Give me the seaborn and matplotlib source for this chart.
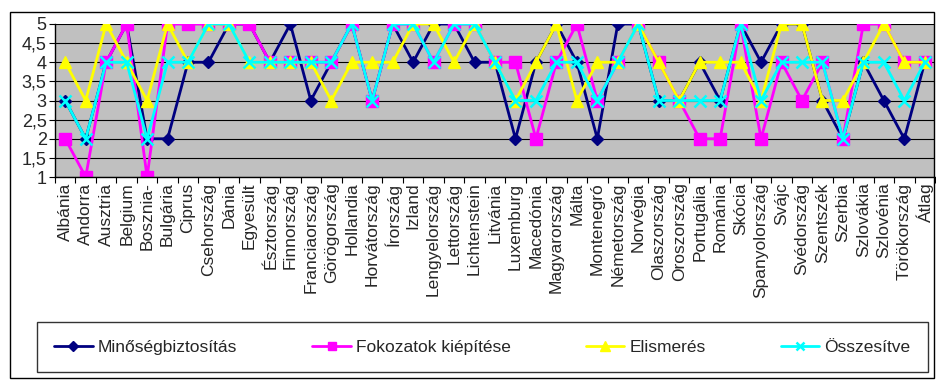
import matplotlib
matplotlib.use("Agg")
import matplotlib.pyplot as plt
from matplotlib.patches import Rectangle
from matplotlib.ticker import FixedLocator, FuncFormatter
import seaborn as sns
import pandas as pd
import numpy as np

categories = ["Albánia", "Andorra", "Ausztria", "Belgium", "Bosznia-", "Bulgária", "Ciprus",
              "Csehország", "Dánia", "Egyesült", "Észtország", "Finnország", "Franciaország",
              "Görögország", "Hollandia", "Horvátország", "Írország", "Izland", "Lengyelország",
              "Lettország", "Lichtenstein", "Litvánia", "Luxemburg", "Macedónia", "Magyarország",
              "Málta", "Montenegró", "Németország", "Norvégia", "Olaszország", "Oroszország",
              "Portugália", "Románia", "Skócia", "Spanyolország", "Svájc", "Svédország",
              "Szentszék", "Szerbia", "Szlovákia", "Szlovénia", "Törökország", "Átlag"]

minosegbiztositas = [3, 2, 4, 5, 2, 2, 4, 4, 5, 5, 4, 5, 3, 4, 5, 3, 5, 4, 5, 5, 4, 4,
                     2, 4, 5, 4, 2, 5, 5, 3, 3, 4, 3, 5, 4, 5, 5, 3, 2, 4, 3, 2, 4]
fokozatok = [2, 1, 4, 5, 1, 5, 5, 5, 5, 5, 4, 4, 4, 4, 5, 3, 5, 5, 4, 5, 5, 4,
             4, 2, 4, 5, 3, 4, 5, 4, 3, 2, 2, 5, 2, 4, 3, 4, 2, 5, 5, 4, 4]
elismeres = [4, 3, 5, 4, 3, 5, 4, 5, 5, 4, 4, 4, 4, 3, 4, 4, 4, 5, 5, 4, 5, 4,
             3, 4, 5, 3, 4, 4, 5, 4, 3, 4, 4, 4, 3, 5, 5, 3, 3, 4, 5, 4, 4]
osszesitve = [3, 2, 4, 4, 2, 4, 4, 5, 5, 4, 4, 4, 4, 4, 5, 3, 5, 5, 4, 5, 5, 4,
              3, 3, 4, 4, 3, 4, 5, 3, 3, 3, 3, 5, 3, 4, 4, 4, 2, 4, 4, 3, 4]

series_names = ["Minőségbiztosítás", "Fokozatok kiépítése", "Elismerés", "Összesítve"]
series_values = [minosegbiztositas, fokozatok, elismeres, osszesitve]
colors = ["#000080", "#FF00FF", "#FFFF00", "#00FFFF"]
marker_map = ["D", "s", "^", "x"]
marker_sizes = [6, 8, 9, 8]

sns.set_style("white")
plt.rcParams["font.family"] = ["Liberation Sans", "DejaVu Sans"]

fig = plt.figure(figsize=(9.37, 3.80), dpi=100)
W, H = 937, 380
ax = fig.add_axes([55 / W, 1 - 177 / H, (935 - 55) / W, (177 - 24) / H])
ax.set_facecolor("#C0C0C0")

for name, vals, col, mk, ms in zip(series_names, series_values, colors, marker_map, marker_sizes):
    d = pd.DataFrame({"Ország": categories, "Érték": vals})
    sns.lineplot(data=d, x="Ország", y="Érték", color=col, marker=mk,
                 markersize=ms, markeredgecolor=col, markerfacecolor=col,
                 markeredgewidth=(1.8 if mk == "x" else 1),
                 linewidth=2, sort=False, ax=ax, label=name)

handles, labels = ax.get_legend_handles_labels()
if ax.get_legend() is not None:
    ax.get_legend().remove()

ax.set_xlim(-0.5, len(categories) - 0.5)
ax.set_ylim(1, 5)
yt = np.arange(1, 5.01, 0.5)
ax.set_yticks(yt)
ax.yaxis.set_major_formatter(FuncFormatter(lambda v, p: ("%g" % v).replace(".", ",")))
ax.grid(axis="y", color="black", linewidth=0.8)
ax.grid(axis="x", visible=False)
ax.set_axisbelow(True)

ax.set_xticks(range(len(categories)))
ax.set_xticklabels(categories, rotation=90, fontsize=12.5)
ax.xaxis.set_minor_locator(FixedLocator(np.arange(-0.5, len(categories), 1.0)))
ax.tick_params(axis="x", which="major", length=0, pad=4)
ax.tick_params(axis="x", which="minor", length=4, color="black", width=0.8, direction="out", bottom=True)
ax.tick_params(axis="y", which="major", length=4, color="black", width=0.8,
               direction="out", labelsize=13, left=True, pad=2)
ax.set_xlabel("")
ax.set_ylabel("")

for s in ["top", "right"]:
    ax.spines[s].set_visible(False)
for s in ["left", "bottom"]:
    ax.spines[s].set_visible(True)
    ax.spines[s].set_color("black")
    ax.spines[s].set_linewidth(1)

leg = fig.legend(handles, labels, loc="lower left",
                 bbox_to_anchor=(37 / W, 1 - 372 / H, (928 - 37) / W, 56 / H),
                 ncol=4, mode="expand", frameon=True, fancybox=False, shadow=False,
                 fontsize=12.5, handlelength=2.2, handletextpad=0.3,
                 borderaxespad=0, borderpad=1.0)
leg.get_frame().set_edgecolor("black")
leg.get_frame().set_linewidth(1)
for h, ms in zip(leg.legend_handles, marker_sizes):
    h.set_markersize(ms * 0.8)

fig.add_artist(Rectangle((10 / W, 2 / H), (934 - 10) / W, (368 - 2) / H,
                         transform=fig.transFigure, fill=False,
                         edgecolor="black", linewidth=1))

fig.savefig("out.png", dpi=100, facecolor="white")
